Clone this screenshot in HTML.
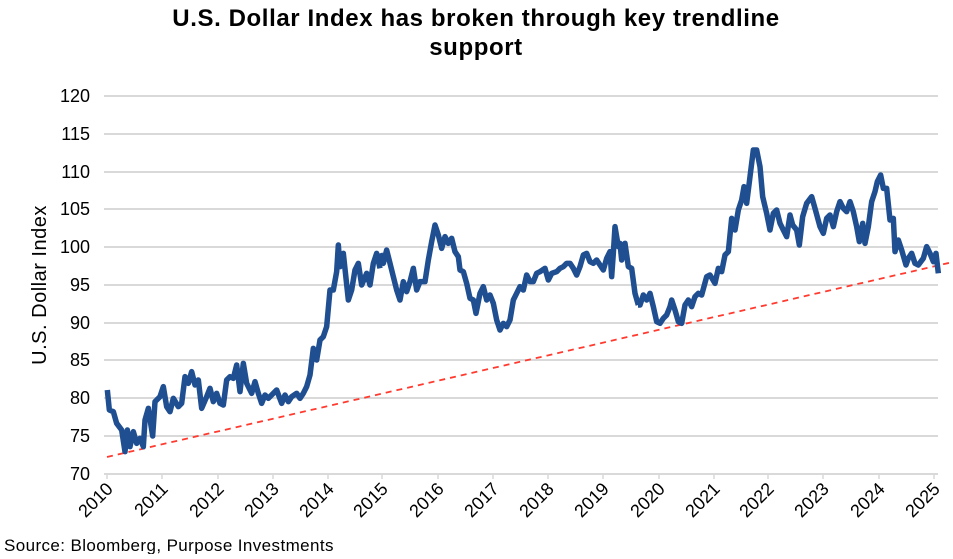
<!DOCTYPE html>
<html><head><meta charset="utf-8"><style>
body{margin:0;background:#fff;}
svg text{font-family:"Liberation Sans",sans-serif;fill:#000;}
</style></head><body>
<svg width="953" height="554" xmlns="http://www.w3.org/2000/svg">
<text x="476" y="26" font-size="24" font-weight="bold" text-anchor="middle" letter-spacing="0.6">U.S. Dollar Index has broken through key trendline</text>
<text x="476" y="55" font-size="24" font-weight="bold" text-anchor="middle" letter-spacing="0.6">support</text>
<g stroke="#d9d9d9" stroke-width="2">
<line x1="104" x2="938" y1="96" y2="96"/><line x1="104" x2="938" y1="134" y2="134"/>
<line x1="104" x2="938" y1="172" y2="172"/><line x1="104" x2="938" y1="209" y2="209"/>
<line x1="104" x2="938" y1="247" y2="247"/><line x1="104" x2="938" y1="285" y2="285"/>
<line x1="104" x2="938" y1="323" y2="323"/><line x1="104" x2="938" y1="360" y2="360"/>
<line x1="104" x2="938" y1="398" y2="398"/><line x1="104" x2="938" y1="436" y2="436"/>
<line x1="104" x2="938" y1="474" y2="474"/>
</g>
<g stroke="#d9d9d9" stroke-width="1.5">
<line x1="107" x2="107" y1="474" y2="479"/><line x1="162" x2="162" y1="474" y2="479"/>
<line x1="218" x2="218" y1="474" y2="479"/><line x1="273" x2="273" y1="474" y2="479"/>
<line x1="328" x2="328" y1="474" y2="479"/><line x1="382" x2="382" y1="474" y2="479"/>
<line x1="438" x2="438" y1="474" y2="479"/><line x1="493" x2="493" y1="474" y2="479"/>
<line x1="548" x2="548" y1="474" y2="479"/><line x1="603" x2="603" y1="474" y2="479"/>
<line x1="659" x2="659" y1="474" y2="479"/><line x1="714" x2="714" y1="474" y2="479"/>
<line x1="768" x2="768" y1="474" y2="479"/><line x1="823" x2="823" y1="474" y2="479"/>
<line x1="879" x2="879" y1="474" y2="479"/><line x1="934" x2="934" y1="474" y2="479"/>
</g>
<g font-size="18" text-anchor="end">
<text x="90" y="102">120</text><text x="90" y="140">115</text><text x="90" y="178">110</text>
<text x="90" y="215">105</text><text x="90" y="253">100</text><text x="90" y="291">95</text>
<text x="90" y="329">90</text><text x="90" y="366">85</text><text x="90" y="404">80</text>
<text x="90" y="442">75</text><text x="90" y="480">70</text>
</g>
<g font-size="18" text-anchor="end">
<text transform="translate(114,490) rotate(-45)">2010</text>
<text transform="translate(169,490) rotate(-45)">2011</text>
<text transform="translate(225,490) rotate(-45)">2012</text>
<text transform="translate(280,490) rotate(-45)">2013</text>
<text transform="translate(335,490) rotate(-45)">2014</text>
<text transform="translate(389,490) rotate(-45)">2015</text>
<text transform="translate(445,490) rotate(-45)">2016</text>
<text transform="translate(500,490) rotate(-45)">2017</text>
<text transform="translate(555,490) rotate(-45)">2018</text>
<text transform="translate(610,490) rotate(-45)">2019</text>
<text transform="translate(666,490) rotate(-45)">2020</text>
<text transform="translate(721,490) rotate(-45)">2021</text>
<text transform="translate(775,490) rotate(-45)">2022</text>
<text transform="translate(830,490) rotate(-45)">2023</text>
<text transform="translate(886,490) rotate(-45)">2024</text>
<text transform="translate(941,490) rotate(-45)">2025</text>
</g>
<text transform="translate(46,285) rotate(-90)" font-size="20" text-anchor="middle" letter-spacing="0.5">U.S. Dollar Index</text>
<text x="4" y="551" font-size="17" letter-spacing="0.4">Source: Bloomberg, Purpose Investments</text>
<line x1="107" y1="457" x2="953" y2="262" stroke="#ff3b30" stroke-width="1.8" stroke-dasharray="6,5"/>
<g fill="none" stroke="#1f4e91" stroke-width="5.5" stroke-linejoin="round">
<polyline vector-effect="non-scaling-stroke" transform="translate(100,230) scale(0.33333)" points="22,480 28,540 40,545 50,580 65,600 75,665 82,600 90,650 100,605 110,640 120,625 130,650 135,570 145,535 152,580 158,618 165,515 180,500 190,470 200,530 210,545 220,505 235,530 245,520 255,440 265,460 275,425 285,465 295,450 305,535 320,500 330,475 340,515 350,490 360,520 370,525 380,450 390,440 400,445 410,405 420,485 430,400 440,460 455,490 465,455 475,490 485,520 495,495 505,505 520,490 530,480 545,520 555,495 565,515 575,500 590,490 600,505 610,490 620,470 630,435 640,355 650,390 660,330 670,320 680,290 690,180 700,180 710,125 715,45 720,110 730,70 745,210 755,180 765,120 775,100 785,165 800,130 810,165 820,100 830,70 840,115"/>
<polyline vector-effect="non-scaling-stroke" transform="translate(300,210) scale(0.33333)" points="240,130 250,160 260,120 270,160 280,200 290,240 300,270 310,215 320,245 330,215 340,175 350,240 360,215 375,215 385,150 395,95 405,45 415,75 425,115 435,80 445,100 455,85 465,125 475,140 480,180 490,185 500,220 510,265 520,270 528,310 540,250 550,230 560,270 570,255 580,280 590,330 600,360 610,340 620,350 630,330 640,270 650,250 660,230 670,240 680,195 690,215 700,215 710,190 720,185 735,175 745,210 755,190 770,185 780,175 790,170 800,160 810,160 820,175 830,195 840,170 850,135 860,130 870,155 880,160 890,150 900,165 910,180 920,145 930,125 935,200 940,130 945,50 955,110 960,100 965,150 975,100 985,170 995,175 1005,250 1015,285"/>
<polyline vector-effect="non-scaling-stroke" transform="translate(600,130) scale(0.33333)" points="114,525 120,525 130,495 140,510 150,490 160,530 170,575 180,580 190,565 200,555 210,530 215,510 225,540 235,575 245,580 255,525 265,510 275,530 285,500 295,490 305,495 320,440 330,435 345,460 355,415 365,425 375,375 385,365 395,265 405,300 415,240 425,210 432,170 440,220 450,140 460,60 470,60 480,110 488,200 500,250 510,300 520,250 530,240 540,280 550,300 560,320 570,255 578,285 590,300 598,345 608,260 620,220 635,200 645,235 660,290 670,310 680,265 690,255 700,290 710,245 720,215 730,235 740,245 750,215 760,245 770,290 778,335 788,280 795,340 805,290 815,215 825,185 832,155 842,135 850,175 860,175 870,270 880,265 885,365 895,330 905,360 918,405 925,385 935,370 945,400 955,405 970,385 980,350 990,370 1000,395 1008,370 1015,430"/>
</g>
</svg>
</body></html>
